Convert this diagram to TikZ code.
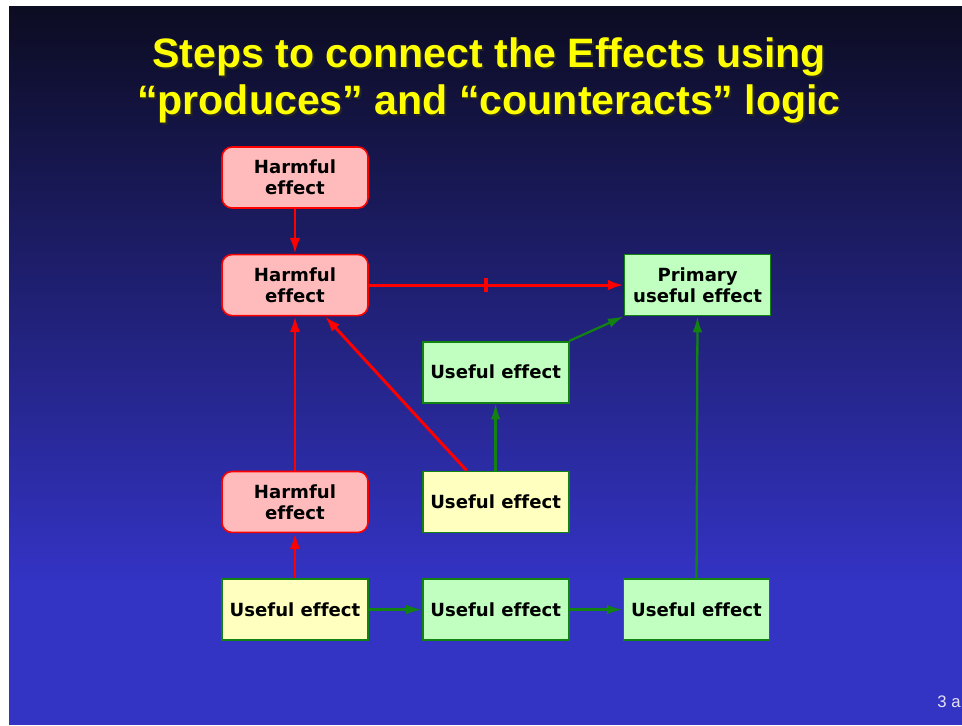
\documentclass[tikz,border=0pt]{standalone}
\usepackage{fontspec}
\setmainfont[Ligatures=NoCommon]{Liberation Sans}
\newfontfamily\boxfont[Ligatures=NoCommon]{DejaVu Sans}
\usepackage{tikz}
\usetikzlibrary{arrows.meta,positioning,decorations.markings}
\usepackage{xcolor}

\definecolor{bgtop}{HTML}{0C0C22}
\definecolor{bgbottom}{HTML}{3333C4}
\definecolor{harmfill}{HTML}{FFBBBB}
\definecolor{goodfill}{HTML}{C0FFC0}
\definecolor{basefill}{HTML}{FFFFC0}
\definecolor{darkgreen}{HTML}{128212}
\definecolor{titleyellow}{HTML}{FFFF00}
\definecolor{pagegray}{HTML}{E4E4F4}

\begin{document}
\begin{tikzpicture}[x=0.02cm, y=-0.02cm,
    effect/.style={minimum width=2.92cm, minimum height=1.22cm, inner sep=1pt, align=center,
                   font=\boxfont\bfseries\fontsize{10.3}{11.8}\selectfont},
    harm/.style={effect, draw=red, fill=harmfill, line width=0.9pt, rounded corners=0.2cm},
    good/.style={effect, draw=darkgreen, fill=goodfill, line width=1pt},
    base/.style={effect, draw=darkgreen, fill=basefill, line width=1pt},
    produces/.style={-{Latex[length=9pt,width=6pt]}, red, line width=1.7pt},
    helps/.style={-{Latex[length=9pt,width=5.5pt]}, darkgreen, line width=1.3pt},
    counteracts/.style={produces, postaction={decorate},
                        decoration={markings, mark=at position 0.46 with {\draw[arrows=-, red, line width=1.8pt] (0,-7) -- (0,7);}}},
    titletext/.style={anchor=base, inner sep=0pt, text=titleyellow, font=\bfseries\fontsize{23.4}{26.6}\selectfont},
    titleshadow/.style={titletext, text=black!85}]
\useasboundingbox (0,0) rectangle (962,725);

% Slide background
\fill[white] (0,0) rectangle (962,725);
\shade[top color=bgtop, bottom color=bgbottom] (9,6) rectangle (962,580);
\fill[bgbottom] (9,579) rectangle (962,725);

% Title with its shadow
\node[titleshadow] (t1s) at (491,69) {Steps to connect the Effects using};
\node[titletext] (t1) at (489,67) {Steps to connect the Effects using};
\node[titleshadow] (t2s) at (491,116) {“produces” and “counteracts” logic};
\node[titletext] (t2) at (489,114) {“produces” and “counteracts” logic};

% Effects
\node[harm] (h1) at (295,177.5) {Harmful\\effect};
\node[harm, below=0.9cm of h1] (h2) {Harmful\\effect};
\node[good, right=5.1cm of h2] (prim) {Primary\\useful effect};
\node[good, below right=0.49cm and 1.06cm of h2] (u1) {Useful effect};
\node[base, below=1.34cm of u1] (u2) {Useful effect};
\node[harm, left=1.06cm of u2] (h3) {Harmful\\effect};
\node[base, below=0.9cm of h3] (u3) {Useful effect};
\node[good, right=1.06cm of u3] (u4) {Useful effect};
\node[good, right=1.06cm of u4] (u5) {Useful effect};

% Harmful links
\draw[produces] (h1) -- (h2);
\draw[counteracts] (h2) -- (prim);
\draw[produces] (h3) -- (h2);
\draw[produces] (u3) -- (h3);
\draw[produces] ([xshift=-0.58cm]u2.north) -- ([xshift=0.6cm]h2.south);

% Useful links
\draw[helps] (u2) -- (u1);
\draw[helps] (u1.north east) -- (prim.south west);
\draw[helps] (u3) -- (u4);
\draw[helps] (u4) -- (u5);
\draw[helps] (u5) -- (prim);

% Page number
\node[anchor=base west, inner sep=0pt, text=pagegray, font=\fontsize{9.5}{11}\selectfont] (pg) at (937,707) {3 a};

\end{tikzpicture}
\end{document}
